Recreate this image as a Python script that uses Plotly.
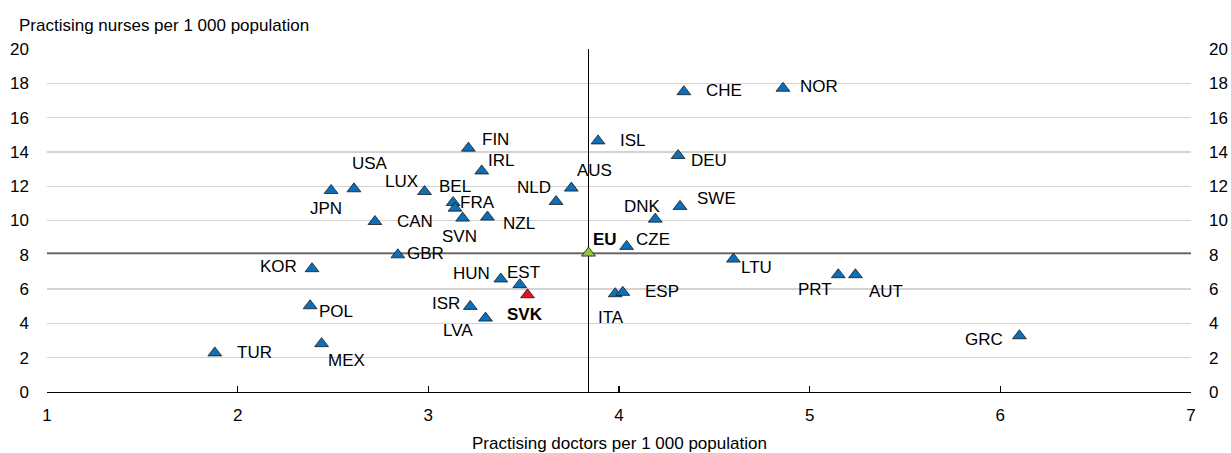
import plotly.graph_objects as go

# ---- data ----
countries = ["JPN", "USA", "CAN", "FIN", "IRL", "LUX", "BEL", "FRA", "SVN", "NZL",
             "NLD", "AUS", "ISL", "DEU", "SWE", "DNK", "CZE", "GBR", "HUN", "EST",
             "ISR", "LVA", "ITA", "ESP", "CHE", "NOR", "KOR", "POL", "TUR", "MEX",
             "LTU", "PRT", "AUT", "GRC"]
doctors = [2.49, 2.61, 2.72, 3.21, 3.28, 2.98, 3.13, 3.14, 3.18, 3.31,
           3.67, 3.75, 3.89, 4.31, 4.32, 4.19, 4.04, 2.84, 3.38, 3.48,
           3.22, 3.30, 3.98, 4.02, 4.34, 4.86, 2.39, 2.38, 1.88, 2.44,
           4.60, 5.15, 5.24, 6.10]
nurses = [11.75, 11.85, 9.94, 14.22, 12.89, 11.69, 11.05, 10.72, 10.14, 10.20,
          11.11, 11.89, 14.64, 13.79, 10.82, 10.08, 8.49, 8.00, 6.59, 6.26,
          4.99, 4.31, 5.73, 5.81, 17.51, 17.71, 7.19, 5.03, 2.28, 2.82,
          7.75, 6.84, 6.84, 3.28]
svk_label, svk_doctors, svk_nurses = "SVK", 3.52, 5.67
eu_label, eu_doctors, eu_nurses = "EU", 3.84, 8.10

x_ticks = [1, 2, 3, 4, 5, 6, 7]
y_ticks = [0, 2, 4, 6, 8, 10, 12, 14, 16, 18, 20]
x_title = "Practising doctors per 1 000 population"
y_title = "Practising nurses per 1 000 population"

# ---- label offsets (pixels, dx right, dy down) ----
label_offsets = {
    "JPN": (-5, 18), "USA": (16, -25), "CAN": (40, 0), "FIN": (27, -9),
    "IRL": (19, -10), "LUX": (-23, -10), "BEL": (2, -16), "FRA": (22, -6),
    "SVN": (-3, 18), "NZL": (32, 6), "NLD": (-22, -14), "AUS": (23, -18),
    "ISL": (35, 0), "DEU": (31, 5), "SWE": (36, -8), "DNK": (-13, -13),
    "CZE": (26, -7), "GBR": (28, -1), "HUN": (-29, -5), "EST": (4, -12),
    "ISR": (-24, -3), "LVA": (-28, 12), "ITA": (-4, 24), "ESP": (39, -1),
    "CHE": (40, -1), "NOR": (36, -2), "KOR": (-34, -2), "POL": (26, 6),
    "TUR": (40, 0), "MEX": (25, 17), "LTU": (23, 8), "PRT": (-23, 15),
    "AUT": (31, 17), "GRC": (-35, 4), "SVK": (-2, 20), "EU": (17, -14),
}

FONT = "Liberation Sans, Arial, sans-serif"
FS = 17
BLUE = "#0d6fb8"
RED = "#e2131f"
GREEN = "#8cc63f"

fig = go.Figure()

# EU reference lines
fig.add_shape(type="line", x0=eu_doctors, x1=eu_doctors, y0=0, y1=20,
              xref="x", yref="y", line=dict(color="#000000", width=1), layer="between")
fig.add_shape(type="line", x0=1, x1=7, y0=eu_nurses, y1=eu_nurses,
              xref="x", yref="y", line=dict(color="#333333", width=1.3), layer="between")

mk = dict(symbol="triangle-up", size=12, line=dict(color="#1a1a1a", width=0.8))
fig.add_trace(go.Scatter(x=doctors, y=nurses, mode="markers",
                         marker=dict(color=BLUE, **mk), hoverinfo="skip", showlegend=False))
fig.add_trace(go.Scatter(x=[svk_doctors], y=[svk_nurses], mode="markers",
                         marker=dict(color=RED, **mk), hoverinfo="skip", showlegend=False))
fig.add_trace(go.Scatter(x=[eu_doctors], y=[eu_nurses], mode="markers",
                         marker=dict(color=GREEN, **mk), hoverinfo="skip", showlegend=False))
# invisible trace to carry the right-hand axis
fig.add_trace(go.Scatter(x=[eu_doctors], y=[eu_nurses], mode="markers", yaxis="y2",
                         marker=dict(opacity=0), hoverinfo="skip", showlegend=False))

annotations = []
for c, xv, yv in zip(countries, doctors, nurses):
    dx, dy = label_offsets[c]
    annotations.append(dict(x=xv, y=yv, xref="x", yref="y", text=c, showarrow=False,
                            xshift=dx, yshift=-dy,
                            font=dict(family=FONT, size=FS, color="#000000")))
for c, xv, yv in [(svk_label, svk_doctors, svk_nurses), (eu_label, eu_doctors, eu_nurses)]:
    dx, dy = label_offsets[c]
    annotations.append(dict(x=xv, y=yv, xref="x", yref="y", text="<b>%s</b>" % c,
                            showarrow=False, xshift=dx, yshift=-dy,
                            font=dict(family=FONT, size=FS, color="#000000")))
# axis titles
annotations.append(dict(x=0, y=1, xref="paper", yref="paper", text=y_title, showarrow=False,
                        xanchor="left", yanchor="middle", xshift=-30, yshift=24,
                        font=dict(family=FONT, size=FS, color="#000000")))
annotations.append(dict(x=0.5, y=0, xref="paper", yref="paper", text=x_title, showarrow=False,
                        xanchor="center", yanchor="middle", yshift=-51,
                        font=dict(family=FONT, size=FS, color="#000000")))

yax = dict(range=[0, 20], tickvals=y_ticks, ticktext=[str(v) for v in y_ticks],
           showgrid=True, gridcolor="#d3d3d3", gridwidth=1.3, zeroline=False,
           showline=False, ticks="", ticklabelstandoff=17, automargin=False,
           tickfont=dict(family=FONT, size=FS, color="#000000"), fixedrange=True)

fig.update_layout(
    width=1231, height=453,
    margin=dict(l=46.5, r=40.3, t=49, b=60.6, pad=0, autoexpand=False),
    paper_bgcolor="white", plot_bgcolor="white",
    showlegend=False,
    xaxis=dict(range=[1, 7], tickvals=x_ticks, ticktext=[str(v) for v in x_ticks],
               showgrid=False, zeroline=False, showline=True, linecolor="#000000",
               linewidth=1.3, ticks="inside", ticklen=6, tickcolor="#000000",
               tickwidth=1.3, ticklabelstandoff=7, automargin=False,
               tickfont=dict(family=FONT, size=FS, color="#000000"), fixedrange=True),
    yaxis=yax,
    yaxis2=dict(yax, overlaying="y", side="right", showgrid=False),
    annotations=annotations,
)

fig.write_html("out.html", config={"displayModeBar": False, "staticPlot": True},
               post_script="document.body.style.margin='0';document.body.style.overflow='hidden';")
